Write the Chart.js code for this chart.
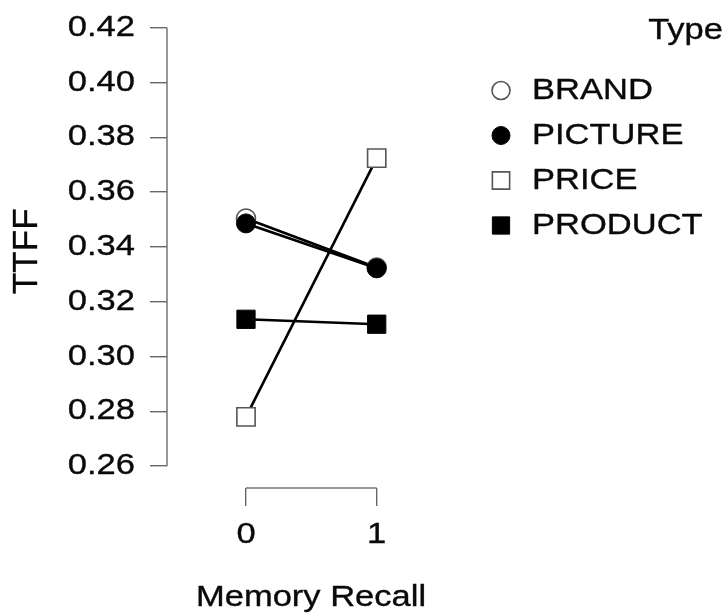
<!DOCTYPE html>
<html>
<head>
<meta charset="utf-8">
<title>TTFF by Memory Recall</title>
<script src="https://cdn.jsdelivr.net/npm/chart.js@4/dist/chart.umd.min.js"></script>
<style>
  html, body { margin: 0; padding: 0; background: #fff; }
  canvas { display: block; }
</style>
</head>
<body>
<canvas id="chart" width="726" height="615"></canvas>
<script>
// Memory recall levels on the x axis
const memoryRecall = [0, 1];
// Mean time to first fixation per area-of-interest type
const typeNames = ['BRAND', 'PICTURE', 'PRICE', 'PRODUCT'];
const brandTTFF = [0.3504, 0.3325];
const pictureTTFF = [0.3486, 0.3322];
const priceTTFF = [0.2780, 0.3724];
const productTTFF = [0.3136, 0.3118];
// Y axis tick values
const yTickValues = [0.26, 0.28, 0.30, 0.32, 0.34, 0.36, 0.38, 0.40, 0.42];

const FONT = '"Liberation Sans", Arial, Helvetica, sans-serif';
const TEXT = '#0a0a0a';
const TEXT_WIDEN = 1.19;
const TEXT_WEIGHT = 0.35;

function pairs(values) {
  return memoryRecall.map((x, i) => ({ x: x, y: values[i] }));
}

const markerStyles = [
  { pointStyle: 'circle', pointRadius: 9.5, pointBackgroundColor: '#fff', pointBorderColor: '#555', pointBorderWidth: 1.6 },
  { pointStyle: 'circle', pointRadius: 9.5, pointBackgroundColor: '#000', pointBorderColor: '#000', pointBorderWidth: 1 },
  { pointStyle: 'rect', pointRadius: 12.9, pointBackgroundColor: '#fff', pointBorderColor: '#555', pointBorderWidth: 1.6 },
  { pointStyle: 'rect', pointRadius: 12.9, pointBackgroundColor: '#000', pointBorderColor: '#000', pointBorderWidth: 1 }
];
const seriesValues = [brandTTFF, pictureTTFF, priceTTFF, productTTFF];

const datasets = typeNames.map((name, i) => Object.assign({
  label: name,
  data: pairs(seriesValues[i]),
  borderColor: '#000',
  borderWidth: 2.6,
  fill: false,
  tension: 0,
  order: typeNames.length - i
}, markerStyles[i]));

// Horizontal text is set a little wider and heavier than the regular face
const wideText = {
  id: 'wideText',
  beforeDraw(chart) {
    const ctx = chart.ctx;
    if (ctx.__wide) return;
    const plain = ctx.fillText.bind(ctx);
    const heavy = (t, x, y) => {
      plain(t, x, y);
      ctx.save();
      ctx.strokeStyle = ctx.fillStyle;
      ctx.lineWidth = TEXT_WEIGHT;
      ctx.lineJoin = 'round';
      ctx.strokeText(t, x, y);
      ctx.restore();
    };
    ctx.fillText = function (t, x, y) {
      const m = ctx.getTransform();
      if (Math.abs(m.b) > 1e-6 || Math.abs(m.c) > 1e-6) {
        return heavy(t, x, y);
      }
      ctx.save();
      ctx.translate(x, y);
      ctx.scale(TEXT_WIDEN, 1);
      heavy(t, 0, 0);
      ctx.restore();
    };
    ctx.__wide = true;
  }
};

// Axis lines spanning only the tick range
const rangeAxes = {
  id: 'rangeAxes',
  beforeDatasetsDraw(chart) {
    const { ctx, chartArea, scales } = chart;
    const y = scales.y, x = scales.x;
    ctx.save();
    ctx.strokeStyle = '#777';
    ctx.lineWidth = 1.5;
    ctx.beginPath();
    ctx.moveTo(chartArea.left, y.getPixelForValue(yTickValues[0]));
    ctx.lineTo(chartArea.left, y.getPixelForValue(yTickValues[yTickValues.length - 1]));
    ctx.moveTo(x.getPixelForValue(memoryRecall[0]), chartArea.bottom);
    ctx.lineTo(x.getPixelForValue(memoryRecall[memoryRecall.length - 1]), chartArea.bottom);
    ctx.stroke();
    ctx.restore();
  }
};

function drawMarker(ctx, ds, cx, cy) {
  ctx.save();
  ctx.fillStyle = ds.pointBackgroundColor;
  ctx.strokeStyle = ds.pointBorderColor;
  ctx.lineWidth = ds.pointBorderWidth;
  ctx.beginPath();
  if (ds.pointStyle === 'circle') {
    ctx.arc(cx, cy, ds.pointRadius, 0, Math.PI * 2);
  } else {
    const h = ds.pointRadius * Math.SQRT1_2;
    ctx.rect(cx - h, cy - h, 2 * h, 2 * h);
  }
  ctx.fill();
  ctx.stroke();
  ctx.restore();
}

// Legend titled "Type" on the right
const typeLegend = {
  id: 'typeLegend',
  afterDraw(chart) {
    const ctx = chart.ctx;
    const W = chart.width;
    ctx.save();
    ctx.fillStyle = TEXT;
    ctx.font = '29px ' + FONT;
    ctx.textBaseline = 'middle';
    ctx.textAlign = 'right';
    ctx.fillText('Type', W - 3, 31);
    ctx.textAlign = 'left';
    chart.data.datasets.forEach((ds, i) => {
      const cy = 90.5 + i * 45;
      const legendDs = Object.assign({}, ds, {
        pointRadius: ds.pointStyle === 'circle' ? 9 : 12.2
      });
      drawMarker(ctx, legendDs, 501, cy);
      ctx.fillStyle = TEXT;
      ctx.fillText(ds.label, 532, cy);
    });
    ctx.restore();
  }
};

new Chart(document.getElementById('chart'), {
  type: 'line',
  data: { datasets: datasets },
  plugins: [wideText, rangeAxes, typeLegend],
  options: {
    responsive: false,
    devicePixelRatio: 1,
    animation: false,
    layout: { padding: { left: 0, right: 271, top: 5, bottom: 0 } },
    plugins: {
      legend: { display: false },
      tooltip: { enabled: false }
    },
    scales: {
      x: {
        type: 'linear',
        min: -0.6044,
        max: 1.599,
        afterBuildTicks: s => { s.ticks = memoryRecall.map(v => ({ value: v })); },
        afterFit: s => { s.height = 127; s.paddingLeft = 0; s.paddingRight = 0; },
        border: { display: false },
        grid: { drawOnChartArea: false, drawTicks: true, tickLength: 18, color: '#666', lineWidth: 1.4 },
        ticks: {
          padding: 12,
          color: TEXT,
          font: { family: FONT, size: 29 },
          callback: v => String(v)
        },
        title: {
          display: true,
          text: 'Memory Recall',
          color: TEXT,
          font: { family: FONT, size: 29 },
          padding: { top: 0, bottom: 0 }
        }
      },
      y: {
        type: 'linear',
        min: 0.25202,
        max: 0.42485,
        afterBuildTicks: s => { s.ticks = yTickValues.map(v => ({ value: v })); },
        afterFit: s => { s.width = 167; s.paddingTop = 0; s.paddingBottom = 0; },
        border: { display: false },
        grid: { drawOnChartArea: false, drawTicks: true, tickLength: 17, color: '#666', lineWidth: 1.4 },
        ticks: {
          padding: 15,
          color: TEXT,
          font: { family: FONT, size: 29 },
          callback: v => Number(v).toFixed(2)
        },
        title: {
          display: true,
          text: 'TTFF',
          color: TEXT,
          font: { family: FONT, size: 35 },
          padding: { top: 6, bottom: 0 }
        }
      }
    }
  }
});
</script>
</body>
</html>
